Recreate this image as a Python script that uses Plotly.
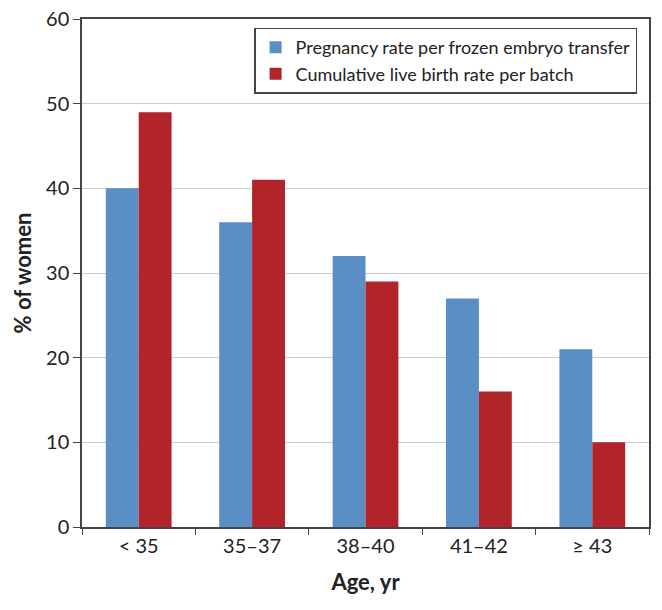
import plotly.graph_objects as go

categories = ["< 35", "35\u201337", "38\u201340", "41\u201342", "\u2265 43"]
pregnancy_rate = [40, 36, 32, 27, 21]
live_birth_rate = [49, 41, 29, 16, 10]
series_names = ["Pregnancy rate per frozen embryo transfer",
                "Cumulative live birth rate per batch"]

fig = go.Figure()
fig.add_trace(go.Bar(x=categories, y=pregnancy_rate, name=series_names[0],
                     marker=dict(color="#5b8ec4", line=dict(width=0))))
fig.add_trace(go.Bar(x=categories, y=live_birth_rate, name=series_names[1],
                     marker=dict(color="#b0242a", line=dict(width=0))))

fig.update_layout(
    width=662, height=610,
    margin=dict(l=82, r=13, t=19, b=83),
    plot_bgcolor="white", paper_bgcolor="white",
    barmode="group", bargap=0.42, bargroupgap=0,
    font=dict(family="Lato, Open Sans, sans-serif", size=20, color="#222"),
    legend=dict(x=0.979, y=0.983, xanchor="right", yanchor="top",
                bordercolor="#444", borderwidth=1.5, bgcolor="white",
                font=dict(size=18), itemwidth=30, tracegroupgap=0),
    showlegend=True,
)
fig.update_xaxes(
    automargin=False, ticklabeloverflow="allow",
    showline=True, linecolor="#444", linewidth=1.5, mirror=True,
    ticks="outside", tickson="boundaries", ticklen=6, tickcolor="#444",
    title=dict(text="<b>Age, yr</b>", font=dict(size=22), standoff=19),
)
fig.update_yaxes(
    automargin=False, ticklabeloverflow="allow",
    range=[0, 60], dtick=10, showline=True, linecolor="#444", linewidth=1.5, mirror=True,
    ticks="outside", ticklen=7, tickcolor="#444",
    showgrid=True, gridcolor="#cccccc", gridwidth=1,
    title=dict(text="<b>% of women</b>", font=dict(size=22), standoff=8),
)
fig.write_html("out.html", config={"displayModeBar": False},
               post_script="document.body.style.margin='0';document.body.style.overflow='hidden';")
